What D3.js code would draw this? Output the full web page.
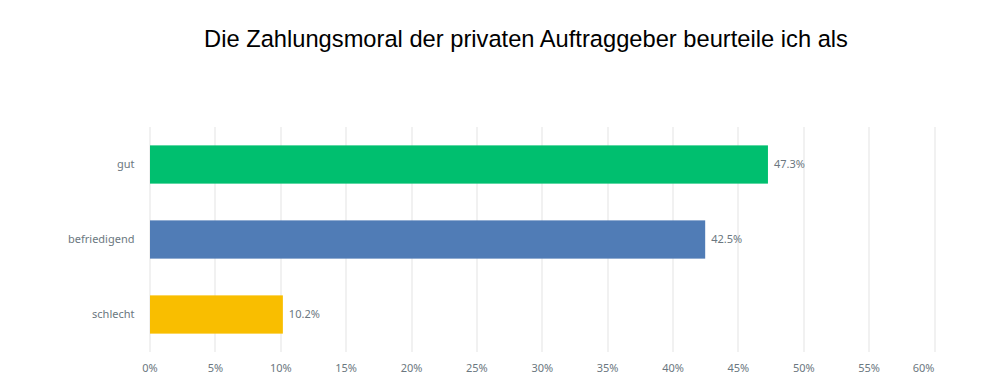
<!DOCTYPE html>
<html>
<head>
<meta charset="utf-8">
<script src="https://cdn.jsdelivr.net/npm/d3@7"></script>
<style>
  body { margin: 0; background: #fff; }
  .tick text { font-family: "Noto Sans", sans-serif; }
</style>
</head>
<body>
<div data-output></div>
<script>
const categories = ['gut', 'befriedigend', 'schlecht'];
const values = [47.3, 42.5, 10.2];
const colors = ['#00bf6f', '#507cb6', '#f9be00'];
const xTicks = [0, 5, 10, 15, 20, 25, 30, 35, 40, 45, 50, 55, 60];
const title = 'Die Zahlungsmoral der privaten Auftraggeber beurteile ich als';

const SIZE = { WIDTH: 1000, HEIGHT: 387 };
const margin = { top: 127, right: 66, bottom: 35, left: 149.5 };
const width = SIZE.WIDTH - margin.left - margin.right;
const height = SIZE.HEIGHT - margin.top - margin.bottom;

const data = categories.map((c, i) => ({ cat: c, val: values[i], color: colors[i] }));

const x = d3.scaleLinear().domain([0, 60]).range([0, width]);
const y = d3.scaleBand().domain(categories).range([0, height]).paddingInner(0.49).paddingOuter(0.245);

const root = d3.select('[data-output]').append('svg')
  .attr('width', SIZE.WIDTH)
  .attr('height', SIZE.HEIGHT);

root.append('text')
  .attr('x', 526)
  .attr('y', 47)
  .attr('text-anchor', 'middle')
  .attr('font-family', '"Liberation Sans", Arial, sans-serif')
  .attr('font-size', 23.7)
  .attr('fill', '#000')
  .text(title);

const svg = root.append('g')
  .attr('transform', `translate(${margin.left}, ${margin.top})`);

// gridlines
svg.append('g')
  .selectAll('line')
  .data(xTicks)
  .join('line')
  .attr('x1', d => Math.round(x(d)) + 0.5)
  .attr('x2', d => Math.round(x(d)) + 0.5)
  .attr('y1', 0)
  .attr('y2', height)
  .attr('stroke', '#e3e3e3')
  .attr('stroke-width', 1);

// x axis labels
const xAxis = svg.append('g')
  .attr('transform', `translate(0, ${height})`)
  .call(d3.axisBottom(x).tickValues(xTicks).tickFormat(d => d + '%').tickSize(0).tickPadding(12));
xAxis.select('.domain').remove();
xAxis.selectAll('text')
  .attr('font-size', 11)
  .attr('fill', '#6b7780')
  .attr('text-anchor', d => d === 60 ? 'end' : 'middle');

// y axis labels
const yAxis = svg.append('g')
  .call(d3.axisLeft(y).tickSize(0).tickPadding(15));
yAxis.select('.domain').remove();
yAxis.selectAll('text')
  .attr('font-size', 11)
  .attr('fill', '#6b7780');

// bars
svg.append('g')
  .selectAll('rect')
  .data(data)
  .join('rect')
  .attr('x', 0.5)
  .attr('y', d => y(d.cat))
  .attr('width', d => x(d.val) - 0.5)
  .attr('height', y.bandwidth())
  .attr('fill', d => d.color);

// value labels
svg.append('g')
  .selectAll('text')
  .data(data)
  .join('text')
  .attr('x', d => x(d.val) + 6)
  .attr('y', d => y(d.cat) + y.bandwidth() / 2)
  .attr('dy', '0.35em')
  .attr('font-family', '"Noto Sans", sans-serif')
  .attr('font-size', 11)
  .attr('fill', '#6b7780')
  .text(d => d.val.toFixed(1) + '%');
</script>
</body>
</html>
